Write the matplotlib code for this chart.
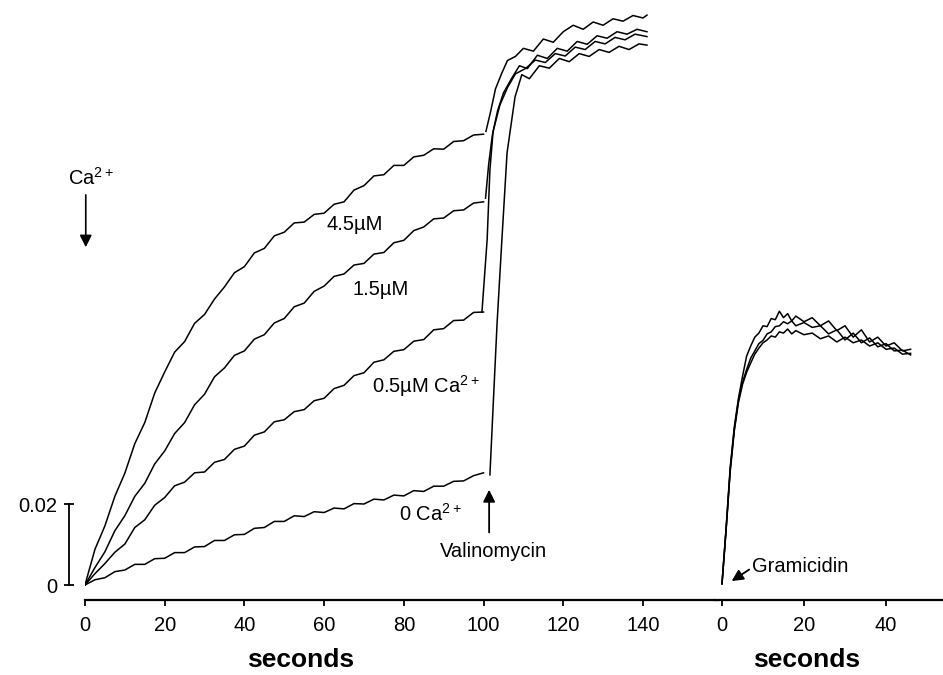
import matplotlib
matplotlib.use("Agg")
import matplotlib.pyplot as plt

plt.rcParams['font.family'] = ['Liberation Sans', 'DejaVu Sans']
plt.rcParams['mathtext.default'] = 'regular'

# time grid (s) for the Ca2+ traces before valinomycin
t_pre = [0, 2.5, 5, 7.5, 10, 12.5, 15, 17.5, 20, 22.5, 25, 27.5, 30, 32.5, 35, 37.5,
         40, 42.5, 45, 47.5, 50, 52.5, 55, 57.5, 60, 62.5, 65, 67.5, 70, 72.5, 75,
         77.5, 80, 82.5, 85, 87.5, 90, 92.5, 95, 97.5, 100]

ca45 = [0.0000, 0.0088, 0.0146, 0.0219, 0.0276, 0.0349, 0.0401, 0.0474, 0.0526, 0.0575,
        0.0601, 0.0646, 0.0668, 0.0706, 0.0736, 0.0771, 0.0786, 0.0820, 0.0831, 0.0862,
        0.0871, 0.0894, 0.0896, 0.0915, 0.0918, 0.0940, 0.0946, 0.0975, 0.0986, 0.1010,
        0.1013, 0.1036, 0.1036, 0.1057, 0.1061, 0.1077, 0.1076, 0.1095, 0.1097, 0.1111, 0.1113]
ca15 = [0.0000, 0.0043, 0.0082, 0.0134, 0.0171, 0.0219, 0.0251, 0.0299, 0.0331, 0.0374,
        0.0401, 0.0445, 0.0471, 0.0514, 0.0536, 0.0567, 0.0578, 0.0607, 0.0618, 0.0647,
        0.0658, 0.0687, 0.0696, 0.0725, 0.0738, 0.0762, 0.0768, 0.0790, 0.0794, 0.0817,
        0.0821, 0.0845, 0.0851, 0.0875, 0.0884, 0.0904, 0.0906, 0.0924, 0.0926, 0.0943, 0.0946]
ca05 = [0.0000, 0.0028, 0.0053, 0.0081, 0.0101, 0.0142, 0.0161, 0.0197, 0.0216, 0.0245,
        0.0254, 0.0277, 0.0279, 0.0303, 0.0310, 0.0335, 0.0343, 0.0370, 0.0378, 0.0403,
        0.0408, 0.0428, 0.0433, 0.0455, 0.0461, 0.0485, 0.0493, 0.0517, 0.0524, 0.0550,
        0.0556, 0.0577, 0.0581, 0.0602, 0.0606, 0.0630, 0.0633, 0.0653, 0.0654, 0.0673, 0.0674]
ca0 = [0.0000, 0.0013, 0.0018, 0.0033, 0.0037, 0.0051, 0.0051, 0.0065, 0.0066, 0.0080,
       0.0080, 0.0094, 0.0095, 0.0110, 0.0110, 0.0124, 0.0125, 0.0140, 0.0142, 0.0157,
       0.0157, 0.0171, 0.0169, 0.0181, 0.0179, 0.0190, 0.0188, 0.0201, 0.0200, 0.0212,
       0.0210, 0.0222, 0.0220, 0.0233, 0.0231, 0.0244, 0.0244, 0.0256, 0.0257, 0.0270, 0.0277]

# after valinomycin
t_val45 = [100.6, 101.8, 103.0, 104.5, 106.0, 108.0, 110, 112.5, 115, 117.5, 120, 122.5,
           125, 127.5, 130, 132.5, 135, 137.5, 140, 141]
val45 = [0.1120, 0.1170, 0.1225, 0.1262, 0.1295, 0.1305, 0.1325, 0.1318, 0.1348, 0.1340,
         0.1366, 0.1382, 0.1372, 0.1390, 0.1382, 0.1398, 0.1392, 0.1406, 0.1400, 0.1407]
t_val15 = [100.5, 101.3, 102.2, 103.5, 105.0, 107.0, 109, 111, 113.5, 116, 118.5, 121,
           123.5, 126, 128.5, 131, 133.5, 136, 138.5, 141]
val15 = [0.0955, 0.1040, 0.1110, 0.1170, 0.1215, 0.1250, 0.1282, 0.1275, 0.1308, 0.1300,
         0.1325, 0.1318, 0.1342, 0.1335, 0.1356, 0.1350, 0.1366, 0.1360, 0.1372, 0.1366]
t_val05 = [99.6, 100.9, 101.6, 102.4, 104.1, 106.0, 108.0, 110.5, 113, 115.5, 118, 120.5,
           123, 125.5, 128, 130.5, 133, 135.5, 138, 141]
val05 = [0.0674, 0.0852, 0.1025, 0.1120, 0.1185, 0.1228, 0.1262, 0.1275, 0.1296, 0.1290,
         0.1312, 0.1306, 0.1328, 0.1322, 0.1342, 0.1336, 0.1352, 0.1346, 0.1360, 0.1354]
t_val0 = [101.6, 102.4, 103.4, 104.6, 105.9, 107.9, 109.6, 111.5, 114, 116.5, 119, 121.5,
          124, 126.5, 129, 131.5, 134, 136.5, 139, 141]
val0 = [0.0272, 0.0440, 0.0647, 0.0852, 0.1067, 0.1205, 0.1260, 0.1250, 0.1282, 0.1276,
        0.1300, 0.1292, 0.1312, 0.1305, 0.1322, 0.1315, 0.1330, 0.1322, 0.1336, 0.1333]

# gramicidin traces (right panel)
t_gram = [0, 1, 2, 3, 4, 5, 6, 7, 8, 9, 10, 11, 12, 13, 14, 15, 16, 17, 18, 20, 22, 24,
          26, 28, 30, 32, 34, 36, 38, 40, 42, 44, 46]
gram1 = [0.0003, 0.0140, 0.0290, 0.0390, 0.0460, 0.0515, 0.0565, 0.0590, 0.0612, 0.0622,
         0.0640, 0.0638, 0.0658, 0.0655, 0.0676, 0.0660, 0.0670, 0.0652, 0.0664, 0.0650,
         0.0660, 0.0640, 0.0652, 0.0628, 0.0640, 0.0612, 0.0630, 0.0600, 0.0612, 0.0590,
         0.0598, 0.0578, 0.0582]
gram2 = [0.0003, 0.0138, 0.0285, 0.0385, 0.0455, 0.0500, 0.0532, 0.0560, 0.0578, 0.0596,
         0.0604, 0.0620, 0.0625, 0.0638, 0.0640, 0.0650, 0.0645, 0.0652, 0.0640, 0.0648,
         0.0636, 0.0640, 0.0620, 0.0630, 0.0605, 0.0622, 0.0598, 0.0610, 0.0588, 0.0596,
         0.0578, 0.0580, 0.0568]
gram3 = [0.0003, 0.0135, 0.0280, 0.0380, 0.0450, 0.0495, 0.0525, 0.0548, 0.0570, 0.0585,
         0.0598, 0.0605, 0.0615, 0.0612, 0.0625, 0.0622, 0.0632, 0.0620, 0.0628, 0.0618,
         0.0622, 0.0608, 0.0615, 0.0600, 0.0612, 0.0598, 0.0605, 0.0590, 0.0598, 0.0582,
         0.0585, 0.0570, 0.0572]

left_ticks = [0, 20, 40, 60, 80, 100, 120, 140]
right_ticks = [0, 20, 40]

fig = plt.figure(figsize=(9.43, 6.75), dpi=100)
ax = fig.add_axes([0.0901, 0.1111, 0.6712, 0.8815])
ax2 = fig.add_axes([0.7582, 0.1111, 0.2418, 0.8815], sharey=ax)

ymin, ymax = -0.0037, 0.1432
lw = 1.1
for y in [ca45, ca15, ca05, ca0]:
    ax.plot(t_pre, y, color='black', lw=lw)
for t, y in [(t_val45, val45), (t_val15, val15), (t_val05, val05), (t_val0, val0)]:
    ax.plot(t, y, color='black', lw=lw)
for y in [gram1, gram2, gram3]:
    ax2.plot(t_gram, y, color='black', lw=lw)

ax.set_xlim(0, 158.8)
ax.set_ylim(ymin, ymax)
ax2.set_xlim(-1.71, 53.9)

for a in [ax, ax2]:
    a.spines['top'].set_visible(False)
    a.spines['right'].set_visible(False)
    a.spines['bottom'].set_linewidth(1.6)
    a.tick_params(axis='x', direction='out', length=4.5, width=1.3, labelsize=14.5, pad=7)
ax2.spines['left'].set_visible(False)
ax2.tick_params(axis='y', left=False, labelleft=False)

ax.set_xticks(left_ticks)
ax2.set_xticks(right_ticks)

# scale bar on the left
ax.spines['left'].set_position(('outward', 11.5))
ax.spines['left'].set_bounds(0, 0.02)
ax.spines['left'].set_linewidth(1.3)
ax.set_yticks([0, 0.02])
ax.set_yticklabels(['0', '0.02'])
ax.tick_params(axis='y', direction='inout', length=7, width=1.3, labelsize=14.5, pad=5)

for a, xc in [(ax, 0.341), (ax2, 0.404)]:
    a.set_xlabel('seconds', fontsize=19, fontweight='bold')
    a.xaxis.label.set_va('baseline')
    a.xaxis.set_label_coords(xc, -0.113)

fs = 14.5
ax.text(60.6, 0.0877, '4.5µM', fontsize=fs)
ax.text(67.2, 0.0716, '1.5µM', fontsize=fs)
ax.text(72.0, 0.0474, r'0.5µM Ca$^{2+}$', fontsize=fs)
ax.text(78.8, 0.0158, r'0 Ca$^{2+}$', fontsize=fs)
ax.text(102.5, 0.0069, 'Valinomycin', fontsize=fs, ha='center')
ax.annotate('', xy=(101.4, 0.0242), xytext=(101.4, 0.0123),
            arrowprops=dict(arrowstyle='-|>', color='black', lw=1.3, mutation_scale=18))

ax.text(-4.3, 0.0988, r'Ca$^{2+}$', fontsize=fs)
ax.annotate('', xy=(0.2, 0.0827), xytext=(0.2, 0.097),
            arrowprops=dict(arrowstyle='-|>', color='black', lw=1.2, mutation_scale=18),
            annotation_clip=False)

ax2.text(7.3, 0.0032, 'Gramicidin', fontsize=fs)
ax2.annotate('', xy=(1.8, 0.0006), xytext=(7.2, 0.0042),
             arrowprops=dict(arrowstyle='-|>', color='black', lw=1.3, mutation_scale=17))

fig.savefig('out.png', dpi=100)
